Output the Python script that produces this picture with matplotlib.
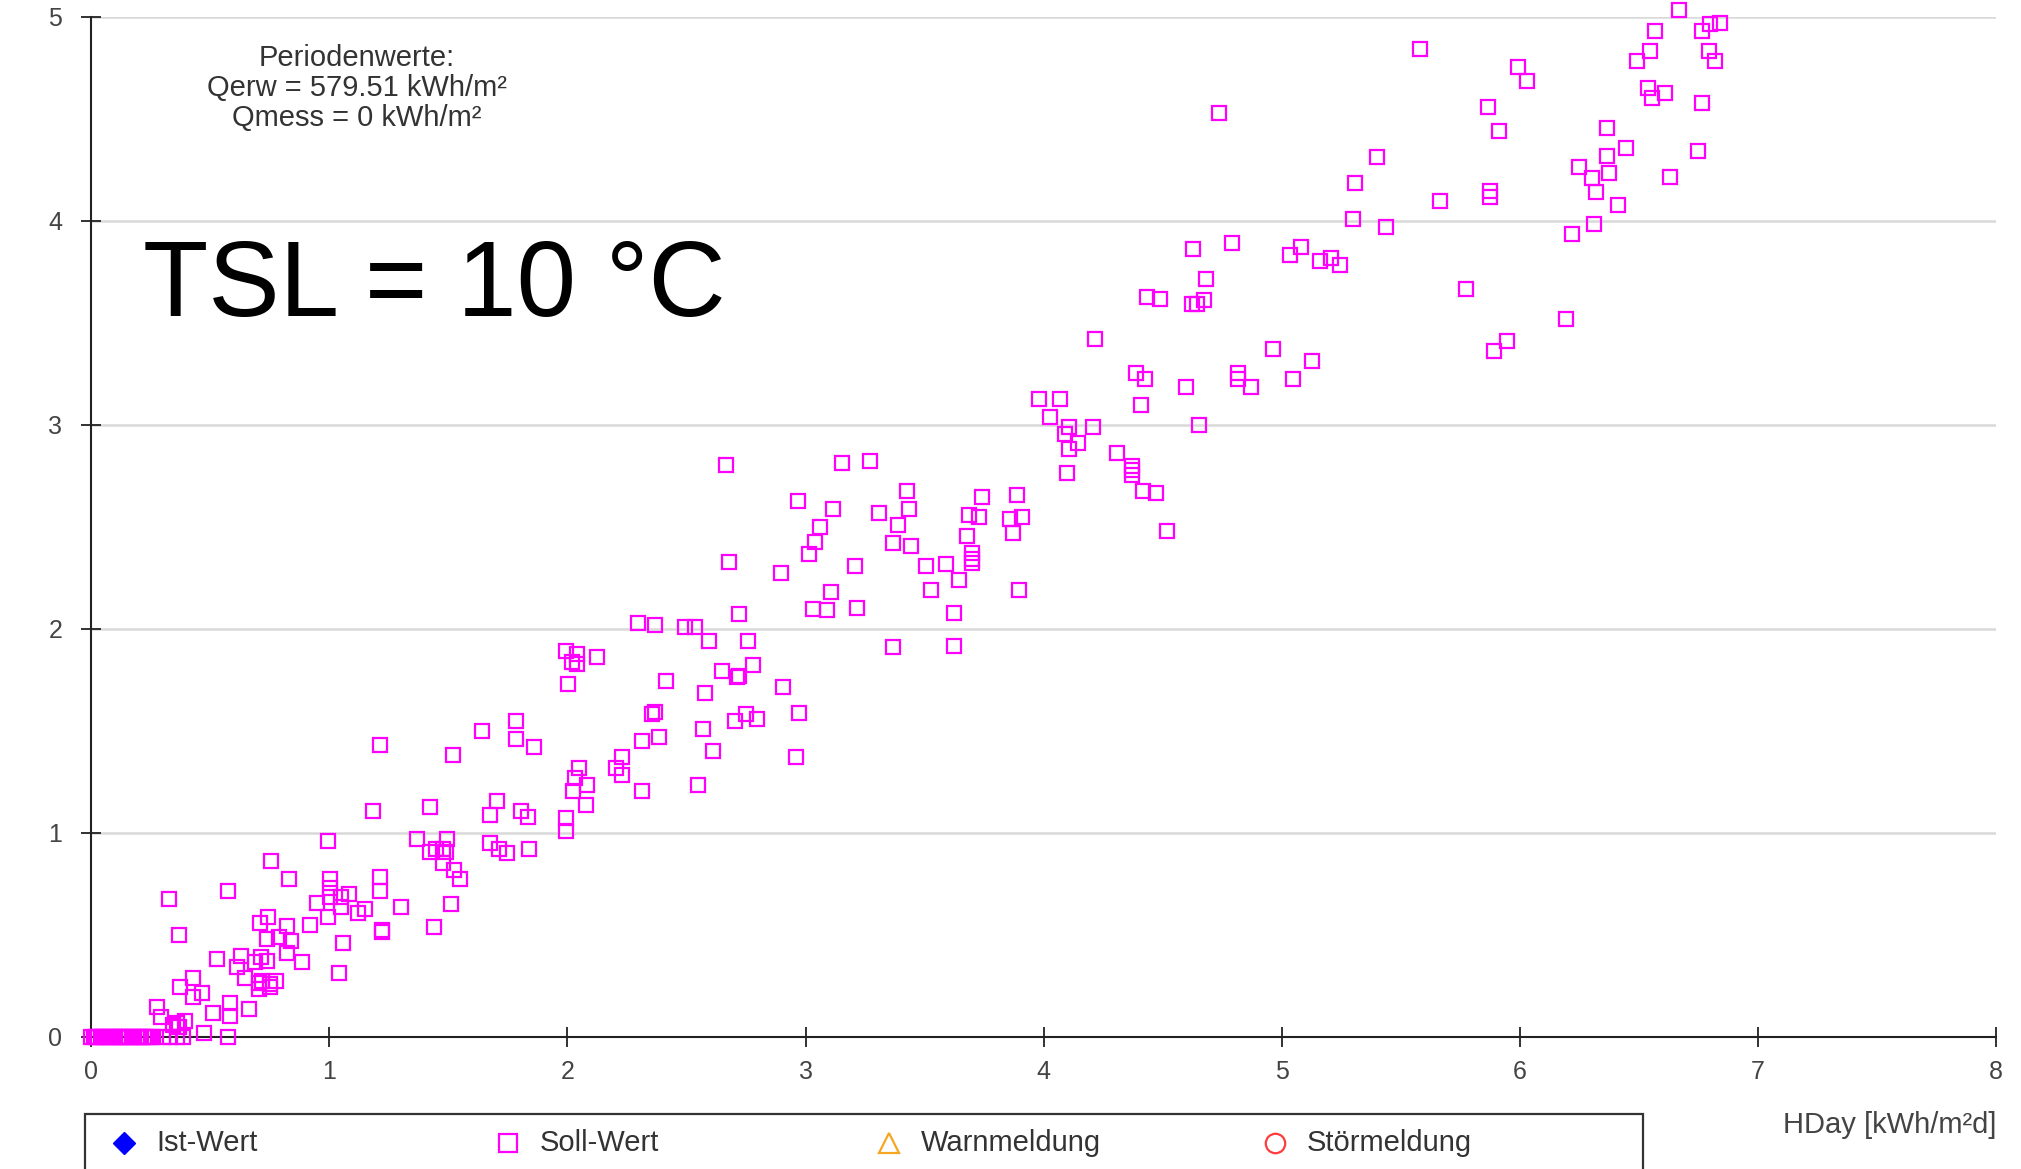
import matplotlib.pyplot as plt
from matplotlib.lines import Line2D
from matplotlib.patches import Rectangle

plt.rcParams["font.family"] = ["Liberation Sans", "DejaVu Sans"]

# Soll-Werte: HDay [kWh/m²d] und Q
hday = [
    6.667, 6.566, 6.766, 6.801, 6.840, 6.549, 6.794, 6.493, 6.822, 5.993,
    6.029, 6.537, 6.556, 6.612, 6.766, 5.865, 5.911, 6.367, 6.448, 6.748,
    6.367, 6.248, 6.304, 6.375, 6.630, 6.322, 6.411, 5.874, 5.874, 6.311,
    6.220, 5.774, 6.193, 5.947, 5.893,
    5.582, 4.736, 5.400, 5.309, 5.663, 5.299, 5.437, 4.626, 4.791, 5.036,
    5.081, 5.162, 5.208, 5.246, 4.682,
    4.434, 4.490, 4.625, 4.645, 4.675, 4.217, 4.963, 5.127, 4.389, 4.427,
    4.818, 4.818, 4.872, 5.046, 4.599, 3.979, 4.070, 4.407, 4.025, 4.108,
    4.207, 4.654, 4.088, 4.144, 4.108, 4.308, 4.372, 4.372, 4.372, 4.098,
    4.417, 4.473, 3.889, 3.860, 3.907, 3.871, 4.518,
    3.153, 3.270, 2.969, 3.115, 3.307, 3.426, 3.434, 3.743, 3.688, 3.727,
    3.060, 3.388, 3.041, 3.014, 3.369, 3.442, 3.679, 3.697, 3.697, 3.697,
    2.897, 3.207, 3.507, 3.588, 3.644, 3.106, 3.526, 3.898, 3.033, 3.088,
    3.215, 3.625, 3.369, 3.625,
    2.678, 2.666, 2.722, 2.295, 2.367, 2.493, 2.535, 2.596, 2.759, 1.995,
    2.040, 2.123, 2.021, 2.039, 2.004, 2.779, 2.651, 2.714, 2.720, 2.414,
    2.577, 2.905, 2.353, 2.367, 2.569, 2.385, 2.313, 2.704, 2.751, 2.796,
    2.972, 2.613, 2.961, 1.784, 1.640, 1.784, 1.858, 1.521, 2.231, 2.204,
    2.231, 2.050, 2.033, 2.084, 2.022, 2.313, 2.550, 2.077, 1.703, 1.676,
    1.804, 1.832, 1.995, 1.995, 1.675, 1.711, 1.747, 1.840, 1.214,
    1.184, 1.421, 0.993, 1.367, 1.493, 1.423, 1.447, 1.476, 1.489, 1.475,
    1.523, 1.549, 1.512, 1.440, 0.756, 0.830, 0.574, 0.327, 1.003, 1.003,
    1.003, 1.084, 1.213, 0.947, 1.050, 1.050, 1.213, 1.122, 1.150, 1.302,
    0.994, 0.920, 1.221, 1.221, 1.056, 1.040, 0.367, 0.710, 0.740, 0.822,
    0.738, 0.787, 0.839, 0.822, 0.885, 0.528, 0.630, 0.711, 0.736, 0.686,
    0.610, 0.645, 0.428, 0.428, 0.372, 0.465, 0.705, 0.716, 0.750, 0.774,
    0.705, 0.750, 0.584, 0.584, 0.663, 0.510, 0.274, 0.291, 0.342, 0.358,
    0.393, 0.368, 0.473, 0.574,
    0.00, 0.01, 0.02, 0.03, 0.04, 0.05, 0.06, 0.07, 0.08, 0.09,
    0.10, 0.11, 0.12, 0.13, 0.14, 0.15, 0.16, 0.17, 0.18, 0.19,
    0.20, 0.21, 0.22, 0.23, 0.24, 0.25, 0.26, 0.30, 0.33, 0.36,
    0.385,
]
q_soll = [
    5.035, 4.931, 4.931, 4.964, 4.971, 4.833, 4.833, 4.784, 4.784, 4.755,
    4.686, 4.649, 4.600, 4.628, 4.578, 4.559, 4.441, 4.453, 4.355, 4.343,
    4.317, 4.265, 4.208, 4.235, 4.216, 4.139, 4.078, 4.147, 4.115, 3.982,
    3.933, 3.665, 3.518, 3.412, 3.363,
    4.842, 4.529, 4.314, 4.186, 4.098, 4.010, 3.971, 3.863, 3.892, 3.833,
    3.873, 3.804, 3.816, 3.784, 3.715,
    3.627, 3.618, 3.590, 3.590, 3.610, 3.420, 3.371, 3.312, 3.255, 3.226,
    3.255, 3.224, 3.185, 3.224, 3.185, 3.127, 3.127, 3.097, 3.039, 2.990,
    2.990, 3.000, 2.953, 2.912, 2.881, 2.863, 2.798, 2.776, 2.754, 2.765,
    2.676, 2.667, 2.657, 2.539, 2.549, 2.471, 2.480,
    2.814, 2.824, 2.627, 2.588, 2.569, 2.676, 2.588, 2.647, 2.559, 2.549,
    2.497, 2.508, 2.427, 2.368, 2.418, 2.406, 2.456, 2.372, 2.344, 2.320,
    2.274, 2.307, 2.307, 2.317, 2.239, 2.182, 2.190, 2.190, 2.098, 2.090,
    2.099, 2.079, 1.909, 1.917,
    2.328, 2.800, 2.071, 2.029, 2.020, 2.010, 2.010, 1.941, 1.941, 1.892,
    1.874, 1.862, 1.837, 1.826, 1.730, 1.824, 1.795, 1.761, 1.770, 1.743,
    1.684, 1.713, 1.582, 1.590, 1.509, 1.470, 1.451, 1.549, 1.582, 1.559,
    1.588, 1.402, 1.373, 1.549, 1.500, 1.461, 1.422, 1.383, 1.373, 1.316,
    1.284, 1.316, 1.267, 1.235, 1.206, 1.206, 1.235, 1.136, 1.157, 1.088,
    1.108, 1.078, 1.071, 1.010, 0.951, 0.922, 0.899, 0.922, 1.430,
    1.108, 1.127, 0.961, 0.971, 0.971, 0.907, 0.919, 0.919, 0.907, 0.853,
    0.817, 0.774, 0.648, 0.539, 0.863, 0.774, 0.715, 0.676, 0.771, 0.727,
    0.686, 0.699, 0.784, 0.655, 0.686, 0.637, 0.713, 0.608, 0.626, 0.637,
    0.589, 0.549, 0.515, 0.525, 0.461, 0.314, 0.498, 0.557, 0.586, 0.543,
    0.480, 0.490, 0.471, 0.408, 0.365, 0.382, 0.394, 0.391, 0.371, 0.366,
    0.341, 0.290, 0.286, 0.196, 0.245, 0.216, 0.265, 0.271, 0.258, 0.271,
    0.233, 0.245, 0.167, 0.101, 0.137, 0.118, 0.147, 0.098, 0.057, 0.066,
    0.078, 0.049, 0.020, 0.000,
    0.0, 0.0, 0.0, 0.0, 0.0, 0.0, 0.0, 0.0, 0.0, 0.0,
    0.0, 0.0, 0.0, 0.0, 0.0, 0.0, 0.0, 0.0, 0.0, 0.0,
    0.0, 0.0, 0.0, 0.0, 0.0, 0.0, 0.0, 0.0, 0.0, 0.0,
    0.0,
]

x_ticks = [0, 1, 2, 3, 4, 5, 6, 7, 8]
y_ticks = [0, 1, 2, 3, 4, 5]
q_erw = 579.51
q_mess = 0
tsl = 10
x_label = "HDay [kWh/m²d]"
legend_labels = ["Ist-Wert", "Soll-Wert", "Warnmeldung", "Störmeldung"]

fig = plt.figure(figsize=(20.21, 11.69), dpi=100)
ax = fig.add_axes([0.0452, 0.1132, 0.9424, 0.8725])

ax.plot(hday, q_soll, ls="none", marker="s", ms=9.4, mfc="none",
        mec="#ff00ff", mew=1.6, clip_on=False, zorder=3)

ax.set_xlim(0, 8)
ax.set_ylim(0, 5)
ax.set_xticks(x_ticks)
ax.set_yticks(y_ticks)
ax.grid(axis="y", color="#d9d9d9", lw=1.8)
ax.set_axisbelow(True)
for side in ["top", "right"]:
    ax.spines[side].set_visible(False)
for side in ["left", "bottom"]:
    ax.spines[side].set_linewidth(1.5)
    ax.spines[side].set_color("#222222")
ax.tick_params(axis="both", direction="inout", length=14, width=1.3,
               color="#222222", labelsize=18, labelcolor="#444444")
ax.tick_params(axis="y", pad=14)
ax.tick_params(axis="x", pad=10)

# Periodenwerte oben links
fig.text(0.1767, 0.9247,
         f"Periodenwerte:\nQerw = {q_erw:.2f} kWh/m²\nQmess = {q_mess} kWh/m²",
         ha="center", va="center", multialignment="center",
         fontsize=21, color="#333333", linespacing=1.1)

fig.text(0.0708, 0.7297, f"TSL = {tsl} °C", ha="left", va="baseline",
         fontsize=77, color="black")

fig.text(0.988, 0.0376, x_label, ha="right", va="center",
         fontsize=21, color="#444444")

# Legende unten (Rahmen läuft über den Bildrand hinaus)
fig.add_artist(Rectangle((0.0421, -0.05), 0.7709, 0.097, transform=fig.transFigure,
                         fill=False, ec="#333333", lw=1.6, clip_on=False))
leg_styles = [
    dict(marker="D", ms=11, mfc="#0000ff", mec="#0000ff", mew=1),
    dict(marker="s", ms=13, mfc="none", mec="#ff00ff", mew=1.6),
    dict(marker="^", ms=14, mfc="none", mec="#f5a623", mew=1.6),
    dict(marker="o", ms=14, mfc="none", mec="#ff3b3b", mew=1.6),
]
leg_x = [0.0614, 0.2514, 0.4399, 0.6309]
leg_y = 0.0222
for label, style, lx in zip(legend_labels, leg_styles, leg_x):
    fig.add_artist(Line2D([lx], [leg_y], transform=fig.transFigure, ls="none", **style))
    fig.text(lx + 0.0158, leg_y, label, ha="left", va="center",
             fontsize=21, color="#333333")

fig.savefig("out.png", dpi=100)
plt.close(fig)
